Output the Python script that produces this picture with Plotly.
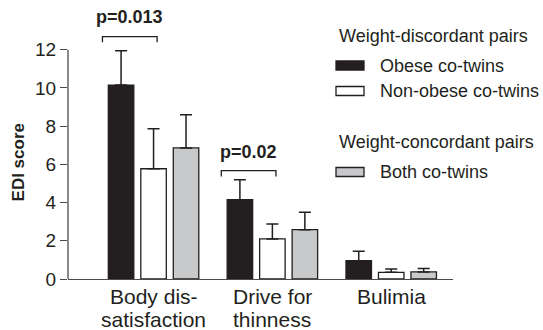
import plotly.graph_objects as go

# EDI subscale scores by twin group
categories = [["Body dis-", "satisfaction"], ["Drive for", "thinness"], ["Bulimia"]]
obese_mean = [10.15, 4.15, 0.96]
obese_err = [1.80, 1.05, 0.49]
nonobese_mean = [5.77, 2.10, 0.35]
nonobese_err = [2.10, 0.78, 0.17]
concordant_mean = [6.86, 2.58, 0.37]
concordant_err = [1.74, 0.92, 0.18]
y_ticks = [0, 2, 4, 6, 8, 10, 12]

# Significance brackets: (category index, bracket height, label)
brackets = [(0, 12.69, "p=0.013"), (1, 5.67, "p=0.02")]

INK = "#231f20"
AXIS = "#4a4a4a"
FONT = "Liberation Sans, Arial, sans-serif"

x_idx = list(range(len(categories)))

def bar(name, means, errs, fill):
    return go.Bar(
        x=x_idx, y=means, name=name,
        marker=dict(color=fill, line=dict(color=INK, width=1.3)),
        error_y=dict(type="data", array=errs, arrayminus=[0] * len(errs),
                     symmetric=False, color=INK, thickness=1.5, width=6),
        showlegend=False,
    )

fig = go.Figure([
    bar("Obese co-twins", obese_mean, obese_err, "#231f20"),
    bar("Non-obese co-twins", nonobese_mean, nonobese_err, "#ffffff"),
    bar("Both co-twins", concordant_mean, concordant_err, "#c8c9cb"),
])

shapes = []
annotations = []

# y-axis line only spans the tick range
shapes.append(dict(type="line", xref="paper", yref="y", x0=0, x1=0, y0=0, y1=12,
                   line=dict(color=AXIS, width=1.3)))

for ci, yb, label in brackets:
    x0, x1 = ci - 0.43, ci + 0.03
    leg = 0.3
    shapes.append(dict(type="path", xref="x", yref="y",
                       path=f"M {x0},{yb - leg} L {x0},{yb} L {x1},{yb} L {x1},{yb - leg}",
                       line=dict(color=INK, width=1.3)))
    annotations.append(dict(x=(x0 + x1) / 2, y=yb + 1.0, xref="x", yref="y",
                            text=f"<b>{label}</b>", showarrow=False,
                            font=dict(size=18, color=INK, family=FONT)))

def px_x(p):
    return (p - 68) / 385

def px_y(p):
    return (279 - p) / 278

# y-axis title
annotations.append(dict(x=px_x(18), y=6.1, xref="paper", yref="y", text="<b>EDI score</b>",
                        xanchor="center", yanchor="middle",
                        textangle=-90, showarrow=False,
                        font=dict(size=17, color=INK, family=FONT)))

# Category labels, one annotation per line for tight line spacing
for ci, lines in enumerate(categories):
    for li, line in enumerate(lines):
        annotations.append(dict(x=ci, y=px_y(296 + 23 * li), xref="x", yref="paper",
                                xanchor="center", yanchor="middle", text=line,
                                showarrow=False, font=dict(size=21, color=INK, family=FONT)))

# Legend drawn in paper coordinates to the right of the plot
legend_rows = [
    ("title", "Weight-discordant pairs", 36, None),
    ("item", "Obese co-twins", 65.5, "#231f20"),
    ("item", "Non-obese co-twins", 91, "#ffffff"),
    ("title", "Weight-concordant pairs", 142.5, None),
    ("item", "Both co-twins", 172, "#c8c9cb"),
]
for kind, text, yc, fill in legend_rows:
    if kind == "title":
        annotations.append(dict(x=px_x(337), y=px_y(yc), xref="paper", yref="paper",
                                xanchor="left", yanchor="middle", text=text, showarrow=False,
                                font=dict(size=18, color=INK, family=FONT)))
    else:
        shapes.append(dict(type="rect", xref="paper", yref="paper",
                           x0=px_x(336), x1=px_x(364), y0=px_y(yc - 4.5), y1=px_y(yc + 4.5),
                           fillcolor=fill, line=dict(color=INK, width=1.3)))
        annotations.append(dict(x=px_x(378), y=px_y(yc), xref="paper", yref="paper",
                                xanchor="left", yanchor="middle", text=text, showarrow=False,
                                font=dict(size=18, color=INK, family=FONT)))

fig.update_layout(
    width=543, height=330,
    margin=dict(l=68, r=90, t=1, b=51, autoexpand=False),
    paper_bgcolor="white", plot_bgcolor="white",
    barmode="group", bargap=0.18, bargroupgap=0.215,
    font=dict(family=FONT, color=INK),
    shapes=shapes, annotations=annotations,
    xaxis=dict(range=[-0.72, 2.52], tickvals=x_idx, showticklabels=False,
               showline=True, linecolor=AXIS, linewidth=1.3, ticks="",
               showgrid=False, zeroline=False),
    yaxis=dict(range=[0, 14.55], tickvals=y_ticks, ticks="outside", ticklen=7,
               tickcolor=AXIS, tickwidth=1.3, showline=False, showgrid=False,
               zeroline=False, tickfont=dict(size=19, color=INK)),
)

fig.write_html("out.html")
